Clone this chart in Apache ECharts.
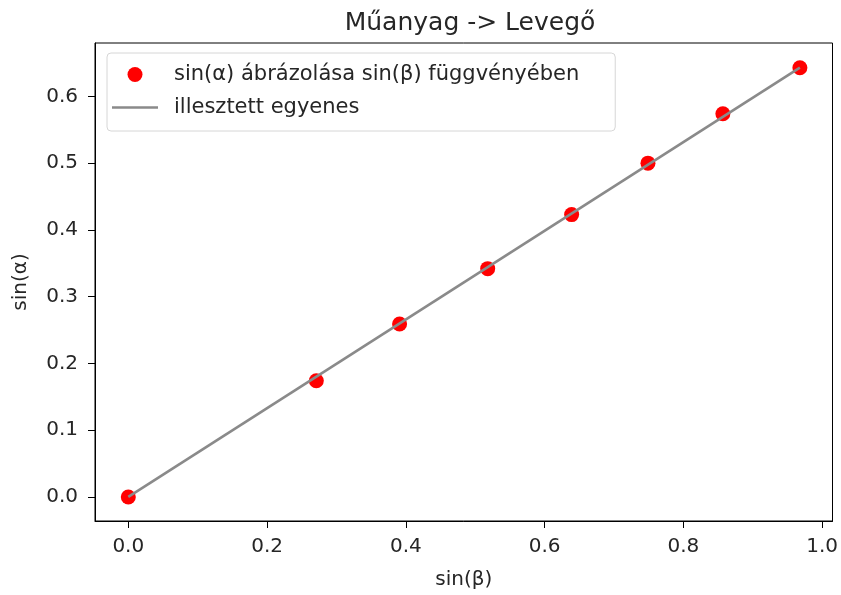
<!DOCTYPE html>
<html><head><meta charset="utf-8">
<script src="https://cdn.jsdelivr.net/npm/echarts@6/dist/echarts.min.js"></script>
<style>html,body{margin:0;padding:0;background:#fff}#c{width:841px;height:595px}</style>
</head><body><div id="c"></div>
<script>
var sinBeta = [0.0, 0.271, 0.391, 0.518, 0.639, 0.749, 0.857, 0.968];
var sinAlpha = [0.0, 0.174, 0.259, 0.342, 0.423, 0.500, 0.574, 0.643];
var fitX = [0.0, 0.968];
var fitY = [0.0, 0.643];
var xTicks = [0.0, 0.2, 0.4, 0.6, 0.8, 1.0];
var yTicks = [0.0, 0.1, 0.2, 0.3, 0.4, 0.5, 0.6];
var titleText = 'Műanyag -> Levegő';
var xName = 'sin(β)';
var yName = 'sin(α)';
var scatterName = 'sin(α) ábrázolása sin(β) függvényében';
var lineName = 'illesztett egyenes';

var font = 'DejaVu Sans';
var txt = '#262626';
var chart = echarts.init(document.getElementById('c'));
chart.setOption({
  animation: false,
  textStyle: {fontFamily: font},
  title: {text: titleText, left: 465, textAlign: 'center', top: 6,
    textStyle: {fontFamily: font, fontSize: 25, fontWeight: 'normal', color: txt}},
  grid: {left: 95, right: 8, top: 43, bottom: 71, show: true, borderColor: '#000', borderWidth: 1, containLabel: false},
  legend: {
    orient: 'vertical', left: 107, top: 53, padding: [11, 36, 13, 5],
    borderColor: '#d6d6d6', borderWidth: 1, borderRadius: 4, backgroundColor: '#fff',
    itemWidth: 46, itemHeight: 15, itemGap: 12,
    textStyle: {fontFamily: font, fontSize: 21, color: txt, padding: [0, 0, 0, 11]},
    data: [
      {name: scatterName, icon: 'circle', itemStyle: {color: '#ff0000'}},
      {name: lineName, icon: 'path://M0,6 L46,6 L46,8.5 L0,8.5 Z', itemStyle: {color: '#8a8a8a'}}
    ]
  },
  xAxis: {
    type: 'value', min: -0.048, max: 1.015,
    name: xName, nameLocation: 'middle', nameGap: 49,
    nameTextStyle: {fontFamily: font, fontSize: 20, color: txt},
    axisLine: {show: true, onZero: false, lineStyle: {color: '#000'}},
    axisTick: {show: true, length: 7, customValues: xTicks, lineStyle: {color: '#000'}},
    axisLabel: {customValues: xTicks, fontSize: 20, color: txt, margin: 16, fontFamily: font,
      formatter: function (v) { return v.toFixed(1); }},
    splitLine: {show: false}
  },
  yAxis: {
    type: 'value', min: -0.036, max: 0.680,
    name: yName, nameLocation: 'middle', nameGap: 64,
    nameTextStyle: {fontFamily: font, fontSize: 20, color: txt},
    axisLine: {show: true, onZero: false, lineStyle: {color: '#000'}},
    axisTick: {show: true, length: 7, customValues: yTicks, lineStyle: {color: '#000'}},
    axisLabel: {customValues: yTicks, fontSize: 20, color: txt, margin: 17, fontFamily: font,
      formatter: function (v) { return v.toFixed(1); }},
    splitLine: {show: false}
  },
  series: [
    {name: scatterName, type: 'scatter', symbol: 'circle', symbolSize: 15, z: 2,
      itemStyle: {color: '#ff0000', opacity: 1},
      data: sinBeta.map(function (x, i) { return [x, sinAlpha[i]]; })},
    {name: lineName, type: 'line', showSymbol: false, symbol: 'none', z: 3,
      lineStyle: {color: '#8a8a8a', width: 2.6},
      itemStyle: {color: '#8a8a8a'},
      data: fitX.map(function (x, i) { return [x, fitY[i]]; })}
  ]
});
</script></body></html>
